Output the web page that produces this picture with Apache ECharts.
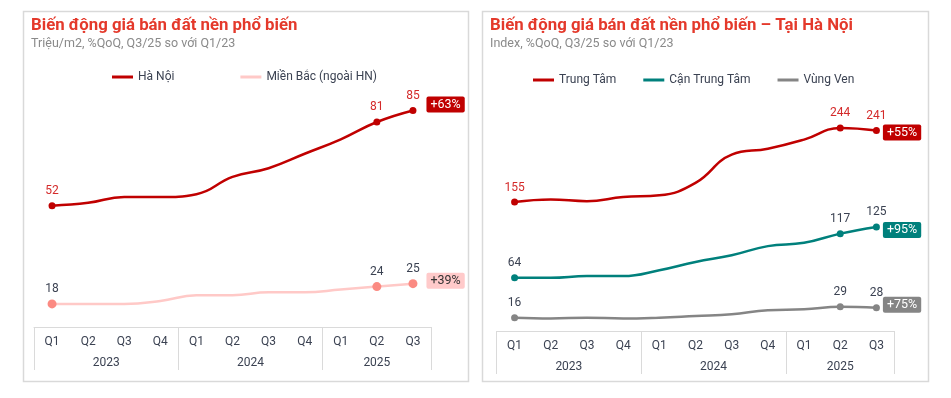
<!DOCTYPE html>
<html>
<head>
<meta charset="utf-8">
<script src="https://cdn.jsdelivr.net/npm/echarts@6/dist/echarts.min.js"></script>
<style>
html,body{margin:0;padding:0;background:#fff;}
#c{width:951px;height:398px;}
</style>
</head>
<body>
<div id="c"></div>
<script>
// ---- data ----
const categories = ['Q1 2023','Q2 2023','Q3 2023','Q4 2023','Q1 2024','Q2 2024','Q3 2024','Q4 2024','Q1 2025','Q2 2025','Q3 2025'];
const yearLabels = ['2023','2024','2025'];
const yearCenters = [1.5, 5.5, 9];
const yearBounds = [-0.5, 3.5, 7.5, 10.5];

const haNoi   = [52, 53, 55, 55, 56, 62, 65, 70, 75, 81, 85];
const mienBac = [18, 18, 18, 19, 21, 21, 22, 22, 23, 24, 25];

const trungTam    = [155, 158, 156, 161, 163, 178, 212, 219, 230, 244, 241];
const canTrungTam = [64, 64, 66, 66, 73, 83, 91, 102, 106, 117, 125];
const vungVen     = [16, 15, 16, 15, 16, 18, 20, 25, 26, 29, 28];

const changeLeft  = ['+63%', '+39%'];
const changeRight = ['+55%', '+95%', '+75%'];

const markedIdx = [0, 9, 10];

// ---- styles ----
const FONT = 'Roboto, "Noto Sans", sans-serif';
const DARK = '#3b4252';
const RED = '#c00000';
const PINK_LINE = '#ffc9c7';
const PINK_DOT = '#fb8a82';
const TEAL = '#00807c';
const GRAY = '#858585';

function makeSeries(name, data, opt) {
  const n = data.length;
  return {
    type: 'line',
    name: name,
    xAxisIndex: opt.xi,
    yAxisIndex: opt.yi,
    data: data,
    smooth: 0.45,
    symbol: 'circle',
    symbolSize: (v, p) => markedIdx.indexOf(p.dataIndex) >= 0 ? opt.sym : 0,
    showAllSymbol: true,
    lineStyle: { color: opt.line, width: opt.width || 2.5 },
    itemStyle: { color: opt.dot },
    label: {
      show: true,
      position: 'top',
      distance: opt.labelDist,
      color: opt.labelColor,
      fontFamily: FONT,
      fontSize: 12,
      formatter: p => markedIdx.indexOf(p.dataIndex) >= 0 ? String(p.value) : ''
    },
    emphasis: { disabled: true },
    markPoint: {
      symbol: 'circle',
      symbolSize: 1,
      itemStyle: { color: 'rgba(0,0,0,0)' },
      data: [{ coord: [n - 1, data[n - 1]] }],
      label: {
        show: true,
        position: 'right',
        distance: opt.badgeDist,
        offset: [0, opt.badgeDy],
        formatter: opt.badge,
        backgroundColor: opt.badgeBg,
        color: opt.badgeColor,
        fontFamily: FONT,
        fontSize: 12.5,
        lineHeight: 13,
        padding: [2, 4, 1, 4],
        borderRadius: 2
      }
    },
    z: opt.z || 3
  };
}

function quarterAxis(gi) {
  return {
    type: 'category', gridIndex: gi, data: categories, boundaryGap: true, position: 'bottom',
    axisLine: { show: false }, axisTick: { show: false }, splitLine: { show: false },
    axisLabel: { color: DARK, fontFamily: FONT, fontSize: 12, margin: 9, interval: 0,
      formatter: v => v.split(' ')[0] }
  };
}
function yearAxis(gi) {
  return {
    type: 'value', gridIndex: gi, min: -0.5, max: 10.5, position: 'bottom',
    axisLine: { show: true, lineStyle: { color: '#dadada', width: 1 } },
    axisTick: { show: true, customValues: yearBounds, length: 43, lineStyle: { color: '#dadada', width: 1 } },
    splitLine: { show: false },
    axisLabel: { show: true, customValues: yearCenters, color: DARK, fontFamily: FONT, fontSize: 12, margin: 30,
      formatter: v => { const i = yearCenters.indexOf(v); return i >= 0 ? yearLabels[i] : ''; } }
  };
}

const chart = echarts.init(document.getElementById('c'), null, { renderer: 'canvas' });
chart.setOption({
  animation: false,
  backgroundColor: '#ffffff',
  textStyle: { fontFamily: FONT },
  graphic: [
    { type: 'rect', shape: { x: 23.5, y: 11.5, width: 445, height: 370 }, style: { fill: 'none', stroke: '#d9d9d9', lineWidth: 1.5 }, silent: true },
    { type: 'rect', shape: { x: 482.5, y: 11.5, width: 446, height: 370 }, style: { fill: 'none', stroke: '#d9d9d9', lineWidth: 1.5 }, silent: true }
  ],
  title: [
    { left: 31, top: 17, padding: 0, text: 'Biến động giá bán đất nền phổ biến', subtext: 'Triệu/m2, %QoQ, Q3/25 so với Q1/23', itemGap: 3,
      textStyle: { color: '#e4392b', fontSize: 16.8, fontWeight: 'bold', fontFamily: FONT },
      subtextStyle: { color: '#8a8a8a', fontSize: 12.5, fontFamily: FONT } },
    { left: 490, top: 17, padding: 0, text: 'Biến động giá bán đất nền phổ biến – Tại Hà Nội', subtext: 'Index, %QoQ, Q3/25 so với Q1/23', itemGap: 3,
      textStyle: { color: '#e4392b', fontSize: 16.8, fontWeight: 'bold', fontFamily: FONT },
      subtextStyle: { color: '#8a8a8a', fontSize: 12.5, fontFamily: FONT } }
  ],
  legend: [
    { left: 107, top: 66, icon: 'rect', itemWidth: 21, itemHeight: 3, itemGap: 66,
      textStyle: { color: DARK, fontSize: 12, fontFamily: FONT },
      data: [{ name: 'Hà Nội', itemStyle: { color: RED } }, { name: 'Miền Bắc (ngoài HN)', itemStyle: { color: PINK_LINE } }] },
    { left: 528, top: 69, icon: 'rect', itemWidth: 21, itemHeight: 3, itemGap: 27,
      textStyle: { color: DARK, fontSize: 12, fontFamily: FONT },
      data: [{ name: 'Trung Tâm', itemStyle: { color: RED } }, { name: 'Cận Trung Tâm', itemStyle: { color: TEAL } }, { name: 'Vùng Ven', itemStyle: { color: GRAY } }] }
  ],
  grid: [
    { left: 34, right: 520, top: 96, bottom: 71 },
    { left: 496.5, right: 56.5, top: 98, bottom: 67 }
  ],
  xAxis: [quarterAxis(0), yearAxis(0), quarterAxis(1), yearAxis(1)],
  yAxis: [
    { type: 'value', gridIndex: 0, min: 10, max: 90, show: false, splitLine: { show: false } },
    { type: 'value', gridIndex: 1, min: 0, max: 280, show: false, splitLine: { show: false } }
  ],
  series: [
    makeSeries('Hà Nội', haNoi, { xi: 0, yi: 0, line: RED, dot: RED, sym: 7, labelDist: 5, labelColor: '#d42a2a',
      badge: changeLeft[0], badgeBg: RED, badgeColor: '#fff', badgeDist: 13, badgeDy: -6, z: 4 }),
    makeSeries('Miền Bắc (ngoài HN)', mienBac, { xi: 0, yi: 0, line: PINK_LINE, dot: PINK_DOT, sym: 9, labelDist: 4, labelColor: DARK,
      badge: changeLeft[1], badgeBg: '#ffcaca', badgeColor: '#333', badgeDist: 13, badgeDy: -3 }),
    makeSeries('Trung Tâm', trungTam, { xi: 2, yi: 1, line: RED, dot: RED, sym: 7, labelDist: 5, labelColor: '#d42a2a',
      badge: changeRight[0], badgeBg: RED, badgeColor: '#fff', badgeDist: 6, badgeDy: 2, z: 4 }),
    makeSeries('Cận Trung Tâm', canTrungTam, { xi: 2, yi: 1, line: TEAL, dot: TEAL, sym: 7, labelDist: 5, labelColor: DARK,
      badge: changeRight[1], badgeBg: TEAL, badgeColor: '#fff', badgeDist: 6, badgeDy: 3 }),
    makeSeries('Vùng Ven', vungVen, { xi: 2, yi: 1, line: GRAY, dot: GRAY, sym: 7, labelDist: 5, labelColor: DARK,
      badge: changeRight[2], badgeBg: GRAY, badgeColor: '#fff', badgeDist: 6, badgeDy: -3 })
  ]
});
</script>
</body>
</html>
